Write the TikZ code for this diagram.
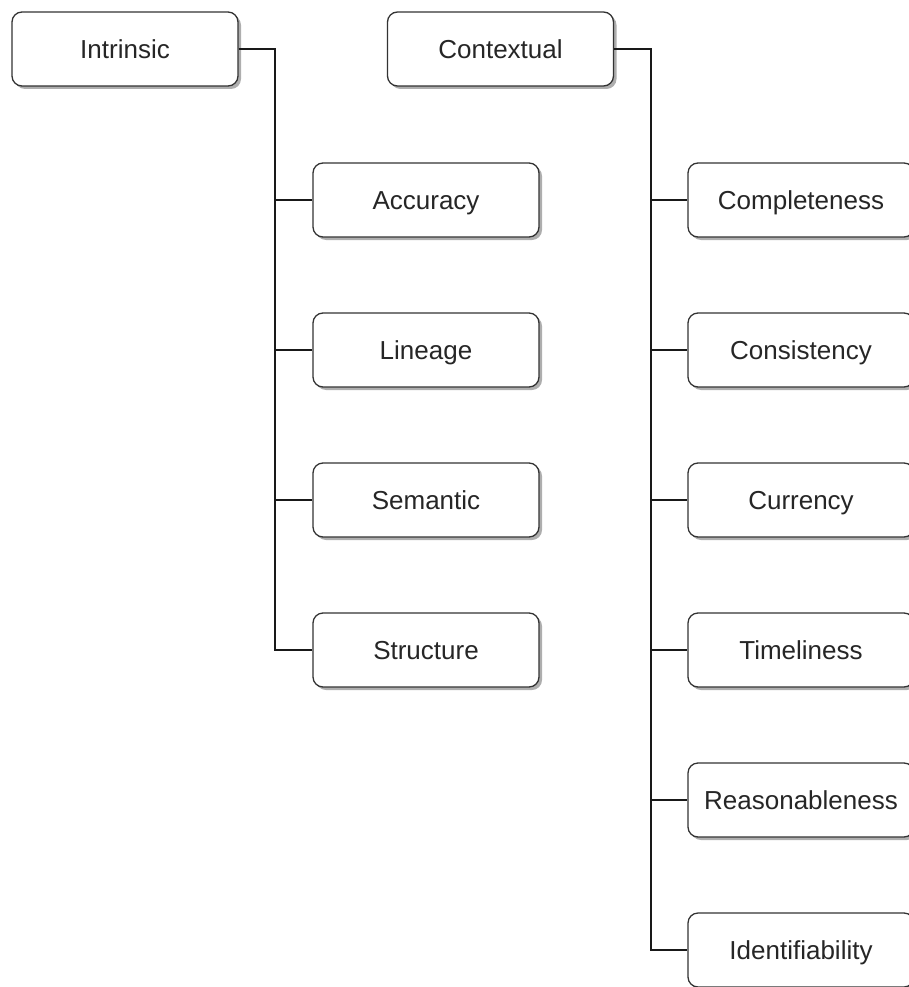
\documentclass[tikz,border=0pt]{standalone}
\usepackage{fontspec}
\setmainfont{Liberation Sans}
\usetikzlibrary{shadows}
\begin{document}
\begin{tikzpicture}[x=1pt,y=1pt,
  box/.style={draw=black!80, line width=1.3pt, fill=white, rounded corners=10pt,
    minimum width=226pt, minimum height=74pt, inner sep=0pt,
    font=\fontsize{26}{30}\selectfont, text=black!85,
    text height=23.4pt, text depth=4.8pt,
    drop shadow={shadow xshift=3pt, shadow yshift=-3pt, fill=black!45, opacity=0.7}},
  conn/.style={draw=black!90, line width=1.3pt}]
\useasboundingbox (0,0) rectangle (909,-987);

% category boxes
\node[box] (intr) at (125,-49) {Intrinsic};
\node[box] (ctx)  at (500.5,-49) {Contextual};

% intrinsic dimensions
\node[box] (acc)  at (426,-200) {Accuracy};
\node[box] (lin)  at (426,-350) {Lineage};
\node[box] (sem)  at (426,-500) {Semantic};
\node[box] (str)  at (426,-650) {Structure};

% contextual dimensions
\node[box] (com)  at (801,-200) {Completeness};
\node[box] (con)  at (801,-350) {Consistency};
\node[box] (cur)  at (801,-500) {Currency};
\node[box] (tim)  at (801,-650) {Timeliness};
\node[box] (rea)  at (801,-800) {Reasonableness};
\node[box] (ide)  at (801,-950) {Identifiability};

% trunk lines
\coordinate (ti) at (275,-49);
\coordinate (tc) at (651,-49);
\draw[conn] (intr.east) -- (ti) |- (str.west);
\foreach \n in {acc,lin,sem} \draw[conn] (ti |- \n.west) -- (\n.west);
\draw[conn] (ctx.east) -- (tc) |- (ide.west);
\foreach \n in {com,con,cur,tim,rea} \draw[conn] (tc |- \n.west) -- (\n.west);
\end{tikzpicture}
\end{document}
